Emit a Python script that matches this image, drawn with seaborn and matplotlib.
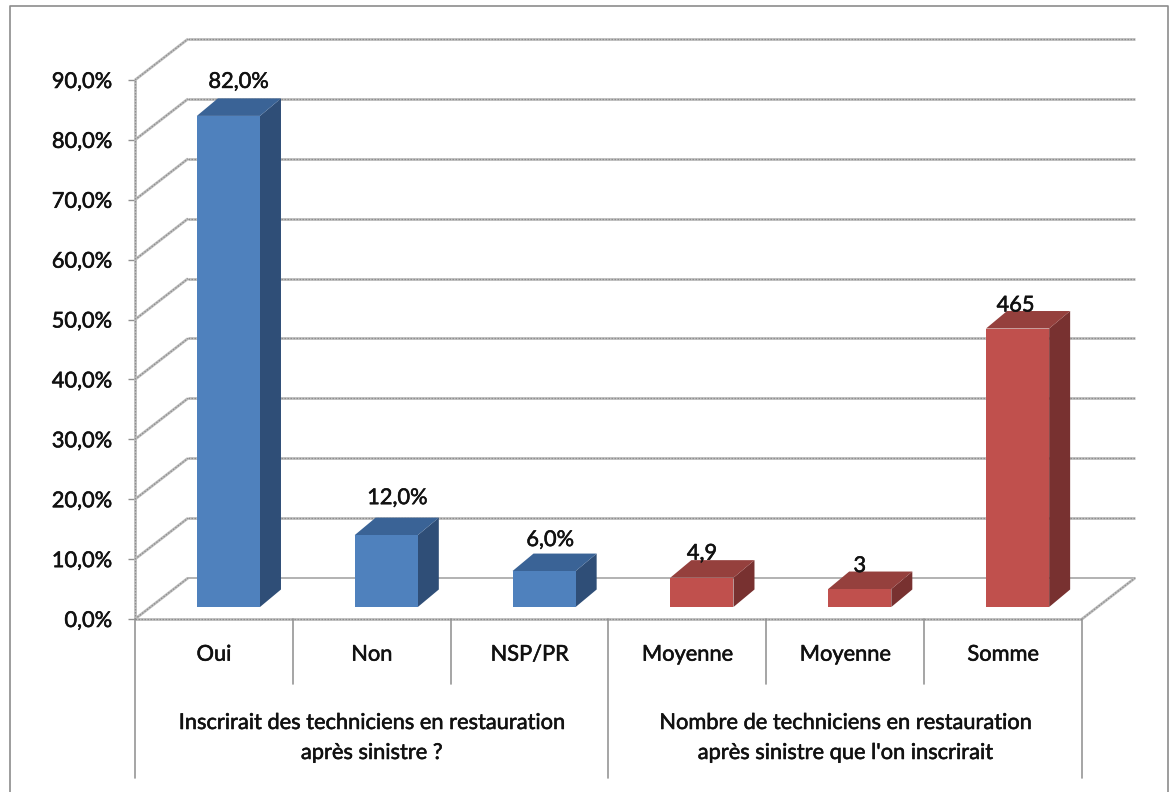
import matplotlib
matplotlib.use("Agg")
import matplotlib.pyplot as plt
import matplotlib.patheffects as pe
from matplotlib.patches import Polygon
from matplotlib.lines import Line2D
from matplotlib.transforms import Affine2D
import pandas as pd
import seaborn as sns

# ---- data ----
categories = ["Oui", "Non", "NSP/PR", "Moyenne", "Moyenne ", "Somme"]
tick_text = ["Oui", "Non", "NSP/PR", "Moyenne", "Moyenne", "Somme"]
values = [82.0, 12.0, 6.0, 4.9, 3.0, 46.5]
value_labels = ["82,0%", "12,0%", "6,0%", "4,9", "3", "465"]
series = ["g1", "g1", "g1", "g2", "g2", "g2"]
group_labels = ["Inscrirait des techniciens en restauration\naprès sinistre ?",
                "Nombre de techniciens en restauration\naprès sinistre que l'on inscrirait"]
y_ticks = [0, 10, 20, 30, 40, 50, 60, 70, 80, 90]
y_tick_labels = ["0,0%", "10,0%", "20,0%", "30,0%", "40,0%", "50,0%",
                 "60,0%", "70,0%", "80,0%", "90,0%"]

W, H = 1174, 792
sns.set_theme(style="white")
plt.rcParams["font.family"] = ["Lato", "DejaVu Sans"]
FS = 15.7
INK = "#111111"
THICK = [pe.withStroke(linewidth=0.4, foreground=INK)]

fig = plt.figure(figsize=(W / 100, H / 100), dpi=100, facecolor="white")
L, R, T, B = 135, 1082, 80, 619
ax = fig.add_axes([L / W, 1 - B / H, (R - L) / W, (B - T) / H])

df = pd.DataFrame({"cat": categories, "val": values, "grp": series})
palette = {"g1": "#4f81bd", "g2": "#c0504d"}
sns.barplot(data=df, x="cat", y="val", hue="grp", palette=palette, dodge=False,
            width=0.4, legend=False, ax=ax, saturation=1, zorder=5, linewidth=0)
ax.set_xlim(-0.5, 5.5)
ax.set_ylim(0, 90)
ax.set_xlabel("")
ax.set_ylabel("")
ax.patch.set_alpha(0)
for s in ax.spines.values():
    s.set_visible(False)

# pixel conversion of the oblique projection
px_x = 6 / (R - L)
px_y = 90 / (B - T)
back_x, back_y = 53 * px_x, 41 * px_y        # wall depth
bar_sx, bar_sy = 14.5 * px_x, 12 * px_y      # bar set into the floor
dep_x, dep_y = 21 * px_x, 17.5 * px_y        # bar depth


def grid_line(xs, ys, z=1.0):
    ax.plot(xs, ys, color="#bdbdbd", lw=2.0, zorder=z, clip_on=False, solid_capstyle="butt")
    ax.plot(xs, ys, color="#8e8e8e", lw=0.9, ls=(0, (1.2, 1.2)), zorder=z + 0.1, clip_on=False)


for t in y_ticks[1:]:
    grid_line([-0.5 + back_x, 5.5 + back_x], [t + back_y, t + back_y])
ax.plot([-0.5 + back_x, 5.5 + back_x], [back_y, back_y], color="#a6a6a6", lw=1.2, zorder=1, clip_on=False)
for t in y_ticks:
    grid_line([-0.5, -0.5 + back_x], [t, t + back_y])
grid_line([5.5, 5.5 + back_x], [0, back_y])
grid_line([-0.5, 5.5], [0, 0], z=2)
grid_line([-0.5, -0.5], [0, 90], z=2)

# bars: shift seaborn's bars and add the oblique faces from their geometry
tops = {"g1": "#3a6396", "g2": "#95403d"}
sides = {"g1": "#2f4e77", "g2": "#783130"}
for patch, g, v in zip(ax.patches, series, values):
    x0s = patch.get_x() + bar_sx
    x1s = x0s + patch.get_width()
    patch.set_transform(ax.transData + Affine2D().translate(14.5, 12))
    patch.set_clip_on(False)
    base = bar_sy
    top = v + base
    ax.add_patch(Polygon([(x1s, base), (x1s + dep_x, base + dep_y), (x1s + dep_x, top + dep_y), (x1s, top)],
                         closed=True, fc=sides[g], ec="none", zorder=4, clip_on=False))
    ax.add_patch(Polygon([(x0s, top), (x0s + dep_x, top + dep_y), (x1s + dep_x, top + dep_y), (x1s, top)],
                         closed=True, fc=tops[g], ec="none", zorder=4, clip_on=False))

# value labels
nudge = [(10, 34), (11, 37), (6, 31), (0, 24), (0, 23), (-2, 23)]
for i, (v, lab) in enumerate(zip(values, value_labels)):
    ax.annotate(lab, xy=(i, v), xytext=((14.5 + nudge[i][0]) * 0.72, (12 + nudge[i][1]) * 0.72),
                textcoords="offset points", ha="center", va="center",
                fontsize=FS, color=INK, zorder=8, annotation_clip=False, path_effects=THICK)

# axes ticks
ax.set_yticks(y_ticks)
ax.set_yticklabels(y_tick_labels)
ax.tick_params(axis="y", length=5.2, width=1.0, color="#909090", pad=11.5, labelsize=FS, labelcolor=INK, left=True)
ax.set_xticks(range(6))
ax.set_xticklabels(tick_text)
ax.tick_params(axis="x", length=0, pad=18.5, labelsize=FS, labelcolor=INK)
for lab in ax.get_xticklabels() + ax.get_yticklabels():
    lab.set_path_effects(THICK)

# category separators
y_short = -(684 - B) * px_y
y_long = -(778 - B) * px_y
for i in range(7):
    lo = y_long if i in (0, 3, 6) else y_short
    ax.plot([i - 0.5, i - 0.5], [0, lo], color="#969696", lw=1.2, zorder=2, clip_on=False)

# group labels
for xc, txt in zip([1, 4], group_labels):
    for k, line in enumerate(txt.split("\n")):
        ax.text(xc, -(723 + 30 * k - B) * px_y, line, ha="center", va="center",
                fontsize=FS, color=INK, clip_on=False, path_effects=THICK)

# outer frame
fig.add_artist(Line2D([9.5 / W, 9.5 / W, 1167.5 / W, 1167.5 / W],
                      [0, 1 - 5.5 / H, 1 - 5.5 / H, 0], color="#8c8c8c", lw=1.2))

fig.savefig("out.png", dpi=100, facecolor="white")
